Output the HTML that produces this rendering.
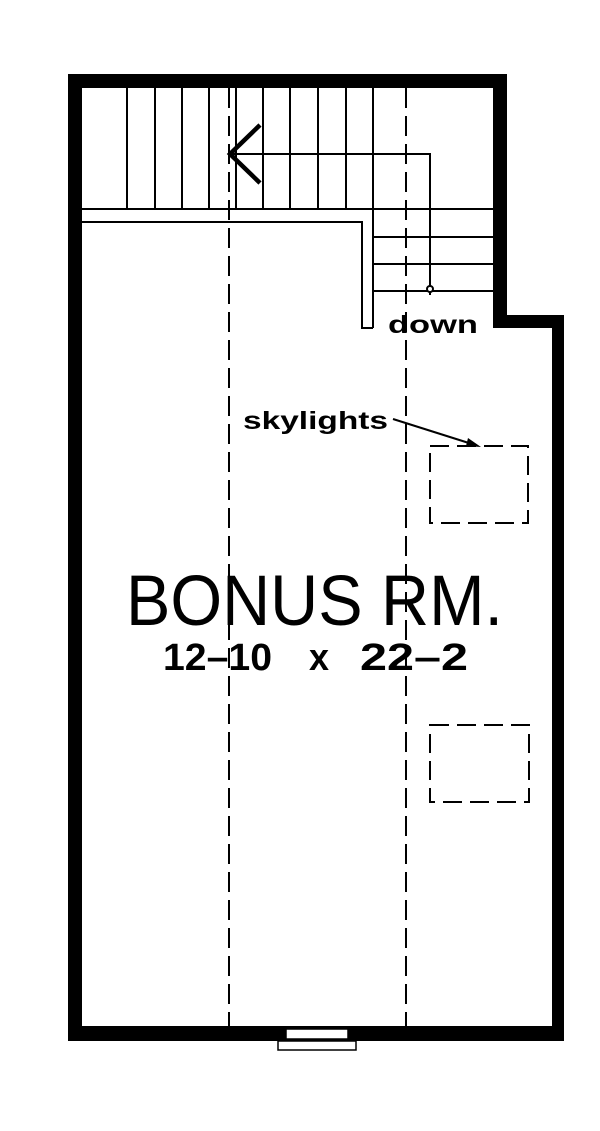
<!DOCTYPE html>
<html><head><meta charset="utf-8"><style>
html,body{margin:0;padding:0;background:#fff;}
svg{display:block;}
text{font-family:"Liberation Sans",sans-serif;fill:#000;}
</style></head><body>
<svg width="600" height="1131" viewBox="0 0 600 1131" xmlns="http://www.w3.org/2000/svg">
<path d="M68,74 H507 V315 H564 V1041 H68 Z M82,88 V1026 H552 V328 H493 V88 Z" fill="#000" fill-rule="evenodd"/>
<rect x="286" y="1029" width="62" height="10" fill="#fff" stroke="#000" stroke-width="1.5"/>
<rect x="278" y="1041" width="78" height="9" fill="#fff" stroke="#000" stroke-width="1.5"/>
<g stroke="#000" stroke-width="2" fill="none">
<line x1="127" y1="88" x2="127" y2="209"/>
<line x1="155" y1="88" x2="155" y2="209"/>
<line x1="182" y1="88" x2="182" y2="209"/>
<line x1="209" y1="88" x2="209" y2="209"/>
<line x1="236" y1="88" x2="236" y2="209"/>
<line x1="263" y1="88" x2="263" y2="209"/>
<line x1="290" y1="88" x2="290" y2="209"/>
<line x1="318" y1="88" x2="318" y2="209"/>
<line x1="346" y1="88" x2="346" y2="209"/>
<line x1="373" y1="88" x2="373" y2="328"/>
<line x1="82" y1="209" x2="493" y2="209"/>
<line x1="373" y1="237" x2="493" y2="237"/>
<line x1="373" y1="264" x2="493" y2="264"/>
<line x1="373" y1="291" x2="493" y2="291"/>
<path d="M82,222 H362 V328 H373"/>
<path d="M231,154 H430 V295"/>
<circle cx="430" cy="289" r="3" fill="#fff"/>
<line x1="229" y1="88" x2="229" y2="1026" stroke-dasharray="20 8"/>
<line x1="406" y1="88" x2="406" y2="1026" stroke-dasharray="20 8"/>
<rect x="430" y="446" width="98" height="77" stroke-dasharray="19 8"/>
<rect x="430" y="725" width="99" height="77" stroke-dasharray="19 8"/>
<line x1="393" y1="419" x2="472" y2="444"/>
</g>
<path d="M481,447 L468,438 L466,446 Z" fill="#000"/>
<path d="M260,125 L230,154 L260,183" stroke="#000" stroke-width="4.5" fill="none"/>
<text x="388" y="333" font-size="25" font-weight="bold" textLength="90" lengthAdjust="spacingAndGlyphs">down</text>
<text x="243" y="429" font-size="25" font-weight="bold" textLength="145" lengthAdjust="spacingAndGlyphs">skylights</text>
<text x="126" y="625" font-size="71" textLength="377" lengthAdjust="spacingAndGlyphs">BONUS RM.</text>
<text x="163" y="670" font-size="38" font-weight="bold" textLength="109" lengthAdjust="spacingAndGlyphs">12–10</text>
<text x="309" y="670" font-size="38" font-weight="bold" textLength="20" lengthAdjust="spacingAndGlyphs">x</text>
<text x="360" y="670" font-size="38" font-weight="bold" textLength="108" lengthAdjust="spacingAndGlyphs">22–2</text>
</svg>
</body></html>
